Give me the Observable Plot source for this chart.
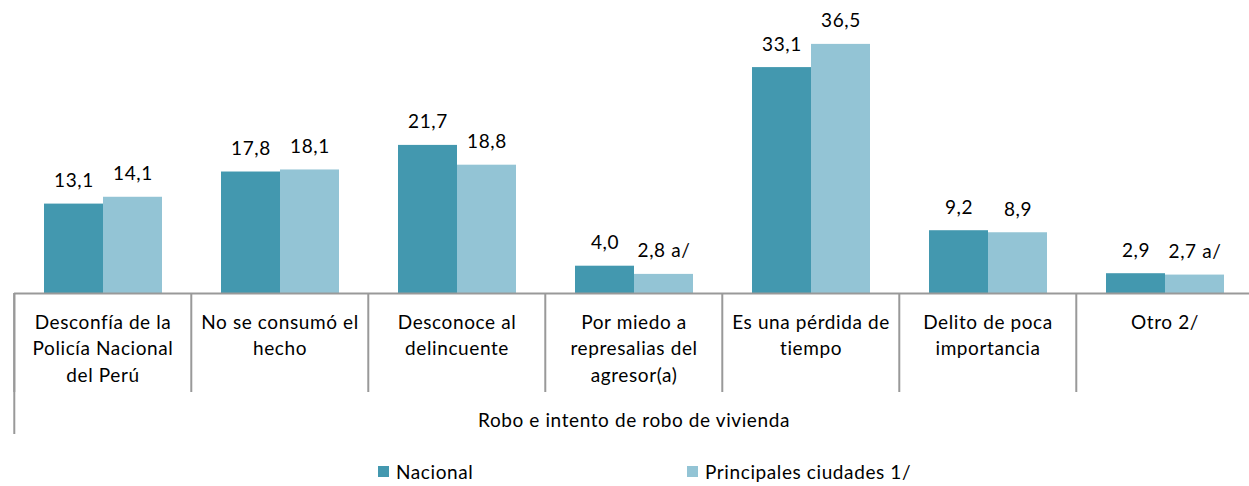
<!DOCTYPE html>
<html>
<head>
<meta charset="utf-8">
<script src="https://cdn.jsdelivr.net/npm/d3@7"></script>
<script src="https://cdn.jsdelivr.net/npm/@observablehq/plot@0.6"></script>
<style>
  html, body { margin: 0; padding: 0; background: #fff; }
  #chart { width: 1249px; }
  .legend { position: relative; width: 1249px; height: 46px; font-family: Lato, sans-serif; font-size: 19px; letter-spacing: 0.6px; color: #000; }
  .legend .item { position: absolute; top: 20px; display: flex; align-items: center; white-space: nowrap; }
  .legend .sw { width: 11px; height: 11px; margin-right: 7px; }
</style>
</head>
<body>
<div id="chart"></div>
<script>
const categories = [
  "Desconfía de la\nPolicía Nacional\ndel Perú",
  "No se consumó el\nhecho",
  "Desconoce al\ndelincuente",
  "Por miedo a\nrepresalias del\nagresor(a)",
  "Es una pérdida de\ntiempo",
  "Delito de poca\nimportancia",
  "Otro 2/"
];
const series = ["Nacional", "Principales ciudades 1/"];
const nacional = [13.1, 17.8, 21.7, 4.0, 33.1, 9.2, 2.9];
const principales = [14.1, 18.1, 18.8, 2.8, 36.5, 8.9, 2.7];
const nacionalNotes = ["", "", "", "", "", "", ""];
const principalesNotes = ["", "", "", " a/", "", "", " a/"];
const groupLabel = "Robo e intento de robo de vivienda";
const colors = ["#4398AF", "#93C4D5"];

const rows = [];
categories.forEach((c, i) => {
  rows.push({category: c, series: series[0], value: nacional[i], note: nacionalNotes[i]});
  rows.push({category: c, series: series[1], value: principales[i], note: principalesNotes[i]});
});
const fmt = v => v.toFixed(1).replace(".", ",");

const W = 1249, H = 440, mL = 12, mR = -5, mT = 20, mB = 147;
const step = (W - mL - mR) / categories.length;
const FONT = "Lato, sans-serif";

const chart = Plot.plot({
  width: W, height: H,
  marginLeft: mL, marginRight: mR, marginTop: mT, marginBottom: mB,
  style: {fontFamily: FONT, fontSize: "19px", letterSpacing: "0.6px", color: "#000", background: "#fff", overflow: "visible"},
  fx: {domain: categories, padding: 0},
  x: {domain: series, paddingInner: 0, paddingOuter: 0.5, axis: null},
  y: {domain: [0, 40], axis: null},
  color: {domain: series, range: colors},
  marks: [
    Plot.barY(rows, {fx: "category", x: "series", y: "value", fill: "series"}),
    Plot.ruleY([0], {stroke: "#999", strokeWidth: 2}),
    Plot.text(rows, {fx: "category", x: "series", y: "value", text: d => fmt(d.value) + d.note,
      lineAnchor: "bottom", dy: -17, fill: "#000", fontSize: 19}),
    Plot.axisFx({anchor: "bottom", tickSize: 99, dx: -step / 2, tickFormat: () => "", label: null,
      stroke: "#999", strokeWidth: 2, strokeOpacity: 1}),
    Plot.axisFx({anchor: "bottom", ticks: [categories[0]], tickSize: 141, dx: -step / 2, tickFormat: () => "", label: null,
      stroke: "#999", strokeWidth: 2, strokeOpacity: 1}),
    Plot.axisFx({anchor: "bottom", tickSize: 0, tickPadding: 17, lineHeight: 1.385, fontSize: 19, fill: "#000",
      label: groupLabel, labelAnchor: "center", labelOffset: 133, labelArrow: false})
  ]
});
document.getElementById("chart").appendChild(chart);

const legend = document.createElement("div");
legend.className = "legend";
const legendLefts = [378, 687];
series.forEach((s, i) => {
  const item = document.createElement("div");
  item.className = "item";
  item.style.left = legendLefts[i] + "px";
  const sw = document.createElement("span");
  sw.className = "sw";
  sw.style.background = colors[i];
  const t = document.createElement("span");
  t.textContent = s;
  item.appendChild(sw);
  item.appendChild(t);
  legend.appendChild(item);
});
document.getElementById("chart").appendChild(legend);
</script>
</body>
</html>
